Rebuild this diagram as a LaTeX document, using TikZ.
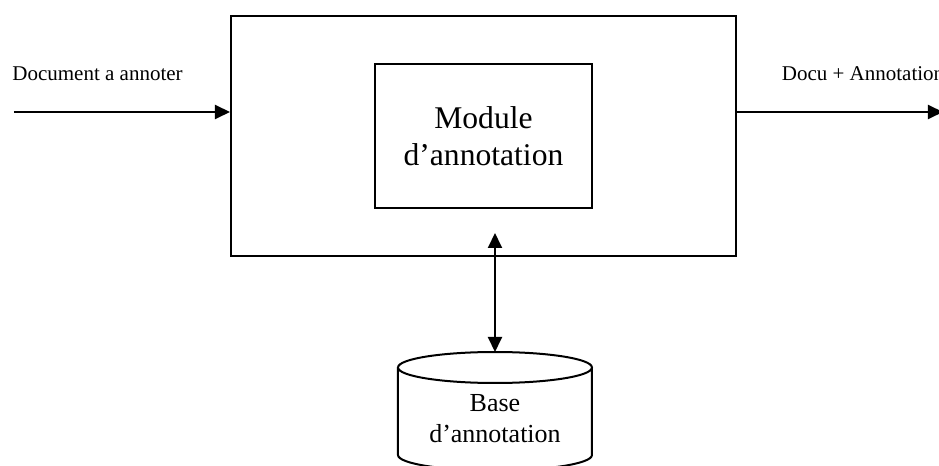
\documentclass[tikz,border=0pt]{standalone}
\usepackage{fontspec}
\setmainfont{Liberation Serif}
\usetikzlibrary{positioning,arrows.meta}

\begin{document}
\begin{tikzpicture}[
    x=1pt, y=1pt,
    every node/.style={font=\fontsize{10.5}{12.6}\selectfont},
    line/.style={line width=1pt},
    arr/.style={line, -{Triangle[length=7.5pt,width=7pt]}},
    dblarr/.style={line, {Triangle[length=7.5pt,width=7pt]}-{Triangle[length=7.5pt,width=7pt]}},
    bigbox/.style={draw, line width=1pt, minimum width=252.5pt, minimum height=120pt, inner sep=0pt},
    modbox/.style={draw, line width=1pt, minimum width=108.5pt, minimum height=72pt, align=center, font=\fontsize{15.8}{18.5}\selectfont},
    lbl/.style={inner sep=0pt, anchor=base west},
    dbtext/.style={align=center, font=\fontsize{13}{15.5}\selectfont}
]
\useasboundingbox (-241.75,-165) rectangle (227.75,68);

% 外框和模块
\node[bigbox] (system) at (0,0) {};
\node[modbox] (module) at (system.center) {Module\\d’annotation};

% 输入输出
\coordinate (in) at (-234.75,12);
\coordinate (out) at (229.75,12);
\draw[arr] (in) -- (in -| system.west);
\draw[arr] (out -| system.east) -- (out);
\node[lbl] (inlabel) at (-235.75,27.5) {Document a annoter};
\node[lbl] (outlabel) at (149,27.5) {Docu + Annotation};

% 数据库
\coordinate (dbtop) at (5.75,-115.75);
\coordinate (dbnorth) at (5.75,-108);
\draw[line] (dbtop) ellipse[x radius=48.5, y radius=7.75];
\draw[line] ([xshift=-48.5]dbtop) -- ++(0,-43.75)
    arc[start angle=180, end angle=360, x radius=48.5, y radius=7.75]
    -- ([xshift=48.5]dbtop);
\node[dbtext] (base) at (5.75,-141.3) {Base\\d’annotation};

% 连接线
\coordinate (dbin) at (5.75,-48.5);
\draw[dblarr] (dbin) -- (dbnorth);

\end{tikzpicture}
\end{document}
